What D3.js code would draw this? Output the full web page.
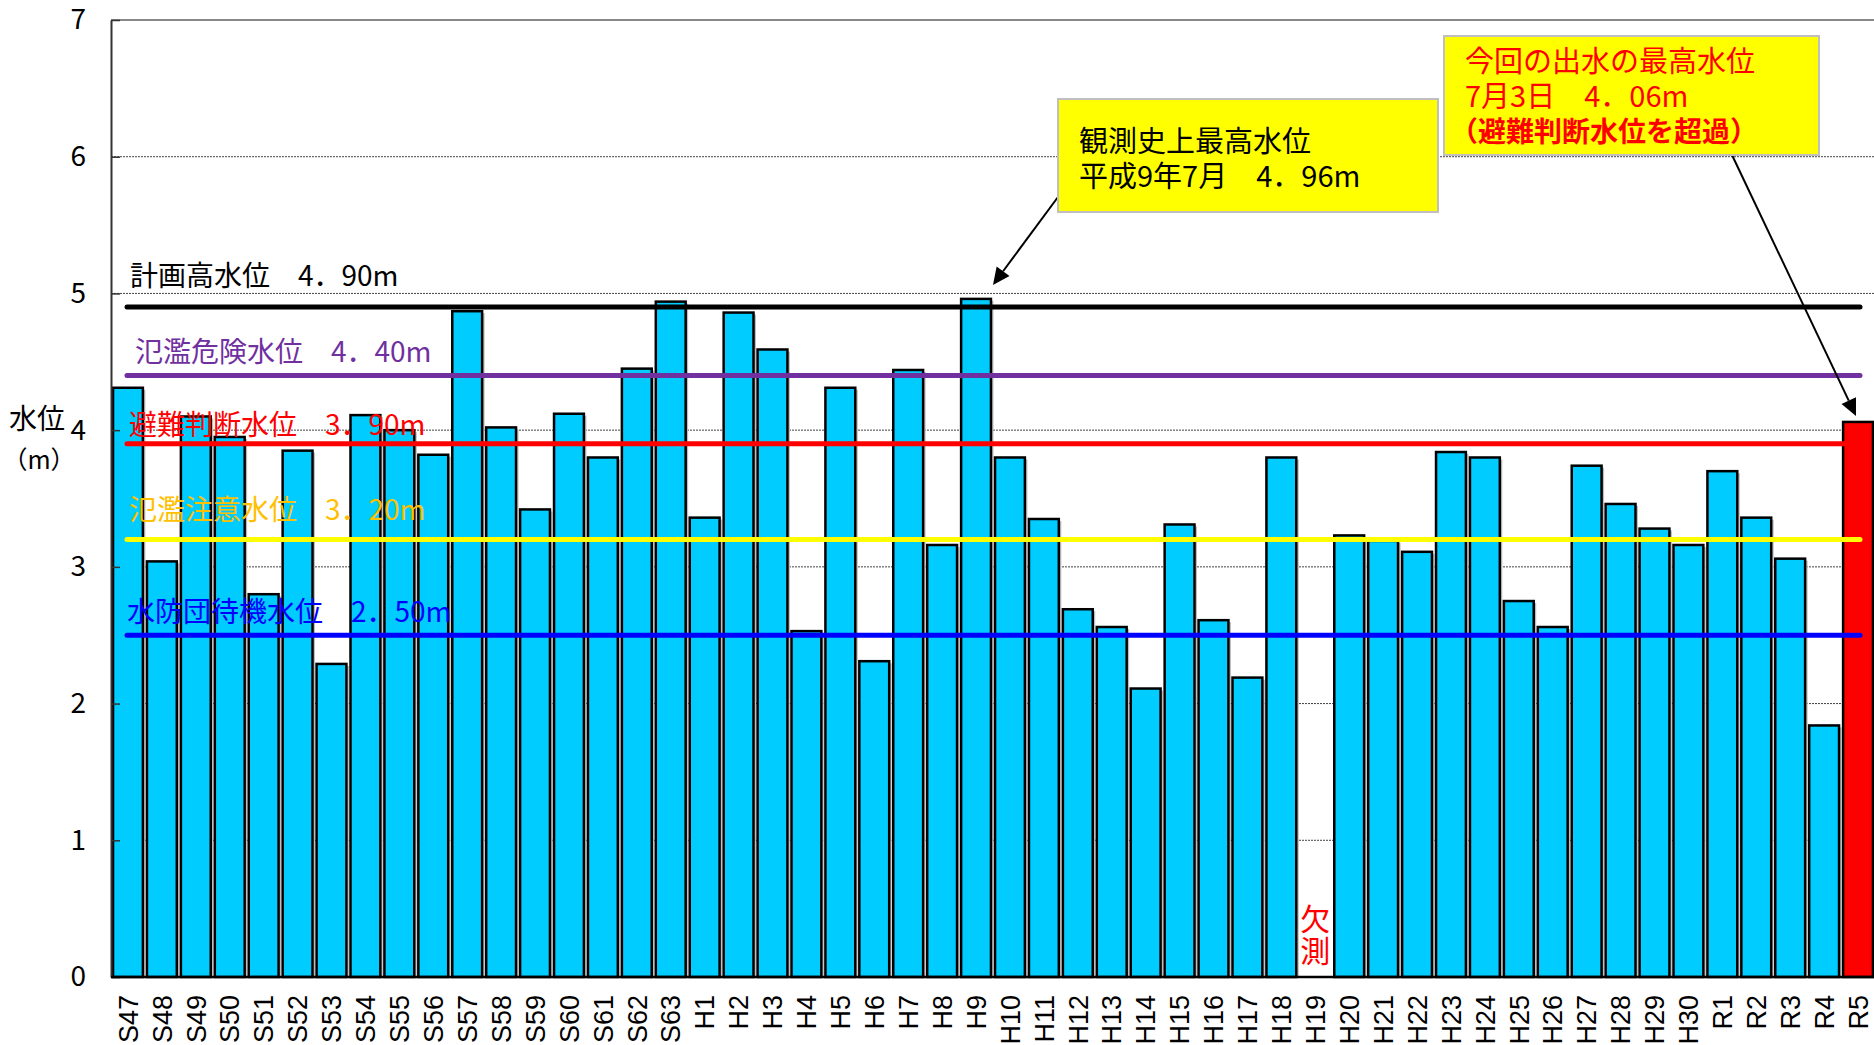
<!DOCTYPE html>
<html>
<head>
<meta charset="utf-8">
<script src="https://cdn.jsdelivr.net/npm/d3@7"></script>
<style>
  body { margin: 0; background: #fff; }
  text { font-family: "Noto Sans CJK JP", "Noto Sans", sans-serif; }
</style>
</head>
<body>
<script>

// 年ごとの最高水位 (m)
const categories = [
    'S47','S48','S49','S50','S51','S52','S53','S54','S55','S56','S57','S58','S59','S60','S61','S62','S63',
    'H1','H2','H3','H4','H5','H6','H7','H8','H9','H10','H11','H12','H13','H14','H15','H16','H17','H18','H19','H20',
    'H21','H22','H23','H24','H25','H26','H27','H28','H29','H30',
    'R1','R2','R3','R4','R5'
]
const peakLevels = [
    4.31, 3.04, 4.10, 3.95, 2.80, 3.85, 2.29, 4.11, 4.00, 3.82, 4.87, 4.02, 3.42, 4.12, 3.80, 4.45, 4.94,
    3.36, 4.86, 4.59, 2.53, 4.31, 2.31, 4.44, 3.16, 4.96, 3.80, 3.35, 2.69, 2.56, 2.11, 3.31, 2.61, 2.19, 3.80, null, 3.23,
    3.19, 3.11, 3.84, 3.80, 2.75, 2.56, 3.74, 3.46, 3.28, 3.16,
    3.70, 3.36, 3.06, 1.84, 4.06
]
const yTicks = [0, 1, 2, 3, 4, 5, 6, 7]

const thresholdValues = [4.90, 4.40, 3.90, 3.20, 2.50]
const thresholdLabels = [
    '計画高水位　4．90m',
    '氾濫危険水位　4．40m',
    '避難判断水位　3．90m',
    '氾濫注意水位　3．20m',
    '水防団待機水位　2．50m'
]

const missingYear = 'H19'
const missingText = ['欠', '測']
const recordYear = 'H9'
const recordNote = ['観測史上最高水位', '平成9年7月　4．96m']
const latestYear = 'R5'
const latestNote = ['今回の出水の最高水位', '7月3日　4．06m', '（避難判断水位を超過）']


function draw () {
    const width  = 1874;
    const height = 1045;
    const left = 111, right = 1875, top = 20, bottom = 977;

    const thresholdColors = ['#000000', '#7030A0', '#FF0000', '#FFFF00', '#0000FF']
    const labelColors     = ['#000000', '#7030A0', '#FF0000', '#FFC000', '#0000FF']
    const labelX          = [130, 135, 129, 129, 127]
    const labelLift       = [21, 13, 9, 20, 13]

    const svg = d3.select('body').append('svg')
        .attr('width', width)
        .attr('height', height)

    const X = d3.scaleBand()
        .domain(categories)
        .range([left, right])
        .paddingInner(0.12)
        .paddingOuter(0.06)

    const Y = d3.scaleLinear()
        .domain([0, 7])
        .range([bottom, top])

    // grid
    svg.append('g')
        .selectAll('line')
        .data(yTicks.filter(t => t > 0 && t < 7))
        .join('line')
        .attr('x1', left).attr('x2', width)
        .attr('y1', d => Y(d)).attr('y2', d => Y(d))
        .attr('stroke', '#444')
        .attr('stroke-width', 1)
        .attr('stroke-dasharray', '2,1')

    svg.append('line')
        .attr('x1', left).attr('x2', width)
        .attr('y1', Y(7)).attr('y2', Y(7))
        .attr('stroke', '#888')
        .attr('stroke-width', 2)

    const data = categories.map((c, i) => ({ c, v: peakLevels[i] })).filter(d => d.v !== null)

    // shadow then bars
    svg.append('g')
        .selectAll('rect')
        .data(data)
        .join('rect')
        .attr('x', d => X(d.c) + 2.5)
        .attr('y', d => Y(d.v) + 2)
        .attr('width', X.bandwidth())
        .attr('height', d => Y(0) - Y(d.v) - 2)
        .attr('fill', '#bdbdbd')

    svg.append('g')
        .selectAll('rect')
        .data(data)
        .join('rect')
        .attr('x', d => X(d.c))
        .attr('y', d => Y(d.v))
        .attr('width', X.bandwidth())
        .attr('height', d => Y(0) - Y(d.v))
        .attr('fill', d => d.c === latestYear ? '#FF0000' : '#00CCFF')
        .attr('stroke', '#000')
        .attr('stroke-width', 2.5)

    // axes
    const y_axis = d3.axisLeft(Y)
        .tickValues(yTicks)
        .tickSizeInner(-9)
        .tickSizeOuter(0)
        .tickPadding(25)
        .tickFormat(d3.format('d'))

    svg.append('g')
        .attr('transform', `translate(${left} 0)`)
        .call(y_axis)
        .call(g => g.select('.domain').attr('stroke', '#333').attr('stroke-width', 2))
        .call(g => g.selectAll('.tick line').attr('stroke', '#333').attr('stroke-width', 1.5))
        .call(g => g.selectAll('text')
            .attr('font-size', 28)
            .attr('fill', '#000')
            .style('font-family', '"Noto Sans CJK JP", sans-serif'))

    const x_axis = d3.axisBottom(X)
        .tickSize(0)

    svg.append('g')
        .attr('transform', `translate(0 ${bottom})`)
        .call(x_axis)
        .call(g => g.select('.domain').attr('d', `M${left},0H${width}`).attr('stroke', '#000').attr('stroke-width', 2.5))
        .call(g => g.selectAll('text')
            .attr('transform', 'rotate(-90)')
            .attr('text-anchor', 'end')
            .attr('x', -18)
            .attr('y', 0)
            .attr('dy', '0.36em')
            .attr('font-size', 27)
            .attr('fill', '#000')
            .style('font-family', '"Liberation Sans", Arial, sans-serif'))

    // axis title
    svg.append('text')
        .attr('x', 9).attr('y', 429)
        .attr('font-size', 28)
        .text('水位')
    svg.append('text')
        .attr('x', 39).attr('y', 469)
        .attr('text-anchor', 'middle')
        .attr('font-size', 25)
        .text('（m）')

    // threshold lines
    svg.append('g')
        .selectAll('line')
        .data(thresholdValues)
        .join('line')
        .attr('x1', 127).attr('x2', 1860)
        .attr('y1', d => Y(d)).attr('y2', d => Y(d))
        .attr('stroke', (d, i) => thresholdColors[i])
        .attr('stroke-width', 5)
        .attr('stroke-linecap', 'round')

    svg.append('g')
        .selectAll('text')
        .data(thresholdValues)
        .join('text')
        .attr('x', (d, i) => labelX[i])
        .attr('y', (d, i) => Y(d) - labelLift[i])
        .attr('fill', (d, i) => labelColors[i])
        .attr('font-size', 28)
        .text((d, i) => thresholdLabels[i])

    // 欠測 (one text, two lines)
    const mx = X(missingYear) + X.bandwidth() / 2
    svg.append('text')
        .attr('x', mx)
        .attr('y', 930)
        .attr('text-anchor', 'middle')
        .attr('fill', '#FF0000')
        .attr('font-size', 30)
        .selectAll('tspan')
        .data(missingText)
        .join('tspan')
        .attr('x', mx)
        .attr('dy', (d, i) => i === 0 ? 0 : 32)
        .text(d => d)

    // callouts
    function arrow (x1, y1, x2, y2) {
        const a = Math.atan2(y2 - y1, x2 - x1)
        const len = 17, w = 8
        const bx = x2 - len * Math.cos(a), by = y2 - len * Math.sin(a)
        svg.append('line')
            .attr('x1', x1).attr('y1', y1)
            .attr('x2', bx).attr('y2', by)
            .attr('stroke', '#000')
            .attr('stroke-width', 2)
        svg.append('path')
            .attr('d', `M${x2},${y2}L${bx - w * Math.sin(a)},${by + w * Math.cos(a)}L${bx + w * Math.sin(a)},${by - w * Math.cos(a)}Z`)
            .attr('fill', '#000')
    }

    const recordValue = peakLevels[categories.indexOf(recordYear)]
    arrow(1058, 197, X(recordYear) + X.bandwidth() + 2, Y(recordValue) - 14)

    svg.append('rect')
        .attr('x', 1058).attr('y', 99)
        .attr('width', 380).attr('height', 113)
        .attr('fill', '#FFFF00')
        .attr('stroke', '#bfbfbf')
        .attr('stroke-width', 2)
    svg.append('text')
        .attr('y', 152)
        .attr('font-size', 29)
        .attr('fill', '#000')
        .selectAll('tspan')
        .data(recordNote)
        .join('tspan')
        .attr('x', 1079)
        .attr('dy', (d, i) => i === 0 ? 0 : 35)
        .text(d => d)

    const latestValue = peakLevels[categories.indexOf(latestYear)]
    arrow(1732, 155, X(latestYear) + X.bandwidth() / 2 - 2, Y(latestValue) - 6)

    svg.append('rect')
        .attr('x', 1444).attr('y', 36)
        .attr('width', 375).attr('height', 119)
        .attr('fill', '#FFFF00')
        .attr('stroke', '#bfbfbf')
        .attr('stroke-width', 2)
    svg.append('text')
        .attr('y', 72)
        .attr('fill', '#FF0000')
        .selectAll('tspan')
        .data(latestNote)
        .join('tspan')
        .attr('x', (d, i) => i === 2 ? 1450 : 1465)
        .attr('dy', (d, i) => i === 0 ? 0 : 35)
        .attr('font-size', (d, i) => i === 2 ? 28 : 29)
        .attr('font-weight', (d, i) => i === 2 ? 'bold' : 'normal')
        .text(d => d)
}


draw();
</script>
</body>
</html>
